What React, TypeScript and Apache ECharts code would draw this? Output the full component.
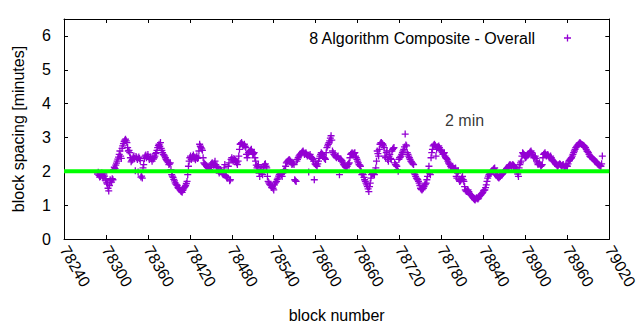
import { useEffect, useRef } from 'react';
import * as echarts from 'echarts';

// ---- data -------------------------------------------------------------
const FIRST_BLOCK = 78288;
const BLOCK_STEP = 1;
const spacingMinutes = [
  1.92, 1.97, 1.88, 1.83, 1.85, 1.90, 1.95, 1.87, 1.80, 1.92, 1.86, 1.74, 1.78, 1.66, 1.62, 1.50, 1.42, 1.58, 1.75, 1.72,
  1.68, 1.78, 1.75, 2.05, 2.12, 2.08, 2.18, 2.24, 2.30, 2.36, 2.42, 2.50, 2.60, 2.45, 2.38, 2.68, 2.75, 2.82, 2.88, 2.92,
  2.95, 2.90, 2.85, 2.70, 2.60, 2.62, 2.55, 2.40, 2.28, 2.32, 2.35, 2.42, 2.45, 2.38, 2.02, 2.44, 2.40, 2.35, 1.98, 2.42,
  2.38, 2.32, 1.83, 1.86, 1.80, 2.10, 2.20, 2.38, 2.45, 2.48, 2.40, 2.44, 2.50, 2.42, 2.35, 2.38, 2.42, 2.36, 2.30, 2.40,
  2.36, 2.40, 2.45, 2.52, 2.55, 2.62, 2.70, 2.76, 2.80, 2.74, 2.85, 2.68, 2.62, 2.55, 2.50, 2.48, 2.45, 2.40, 2.35, 2.32,
  2.30, 2.26, 2.20, 2.22, 2.25, 2.05, 1.90, 1.86, 1.82, 1.76, 1.72, 1.66, 1.62, 1.60, 1.58, 1.52, 1.50, 1.48, 1.45, 1.42,
  1.40, 1.38, 1.44, 1.48, 1.52, 1.55, 1.58, 1.64, 1.70, 1.90, 2.15, 2.30, 2.40, 2.45, 2.35, 2.40, 2.44, 2.48, 2.38, 2.42,
  2.34, 2.40, 2.45, 2.38, 2.40, 2.60, 2.80, 2.74, 2.70, 2.66, 2.62, 2.40, 2.25, 2.22, 2.20, 2.18, 2.15, 2.12, 2.10, 2.08,
  2.05, 2.12, 2.20, 2.22, 2.25, 2.20, 2.18, 2.24, 2.30, 2.20, 2.15, 2.12, 2.10, 2.00, 1.95, 2.02, 2.05, 2.00, 1.95, 1.92,
  1.90, 2.10, 2.20, 1.88, 1.85, 1.82, 1.80, 2.15, 2.25, 1.72, 1.75, 2.35, 2.40, 2.34, 2.30, 2.38, 2.35, 2.32, 2.30, 2.25,
  2.20, 2.30, 2.45, 2.65, 2.80, 2.82, 2.85, 2.80, 2.75, 2.78, 2.80, 2.74, 2.70, 2.50, 2.40, 2.50, 2.55, 2.58, 2.60, 2.62,
  2.65, 2.58, 2.50, 2.52, 2.55, 2.40, 2.30, 2.18, 2.10, 2.15, 2.20, 1.95, 1.85, 2.05, 2.10, 1.95, 1.90, 2.12, 2.15, 2.20,
  2.22, 2.15, 2.10, 1.85, 1.70, 1.66, 1.62, 1.60, 1.58, 1.52, 1.55, 1.50, 1.45, 1.60, 1.65, 1.68, 1.70, 1.76, 1.80, 1.86,
  1.90, 1.92, 1.95, 1.90, 1.85, 1.95, 2.00, 2.02, 2.05, 2.15, 2.25, 2.28, 2.30, 2.32, 2.35, 2.33, 2.30, 2.25, 2.20, 2.22,
  2.25, 2.20, 1.75, 1.72, 1.70, 2.30, 2.35, 2.40, 2.45, 2.48, 2.50, 2.52, 2.55, 2.58, 2.60, 2.55, 2.50, 2.52, 2.55, 2.50,
  2.45, 2.48, 1.98, 2.45, 2.50, 2.44, 2.40, 2.38, 2.35, 2.30, 1.75, 2.22, 2.20, 2.18, 2.15, 2.22, 2.30, 2.38, 2.45, 2.50,
  2.55, 2.52, 2.50, 2.45, 2.40, 2.38, 2.35, 2.55, 2.70, 2.75, 2.80, 2.85, 2.90, 2.98, 3.05, 2.92, 2.60, 2.55, 2.50, 2.48,
  2.45, 2.42, 2.40, 2.44, 2.45, 2.38, 1.90, 2.36, 2.35, 2.32, 2.30, 2.25, 2.20, 2.18, 2.15, 2.12, 2.10, 2.15, 2.20, 2.22,
  2.25, 2.40, 2.50, 2.52, 2.55, 2.52, 2.50, 2.53, 2.55, 2.45, 2.40, 2.35, 2.30, 2.25, 2.20, 2.18, 2.15, 2.00, 1.90, 1.92,
  1.90, 1.82, 1.75, 1.70, 1.65, 1.60, 1.55, 1.48, 1.40, 1.55, 1.65, 1.80, 1.90, 1.93, 1.95, 1.92, 1.90, 2.00, 2.10, 2.30,
  2.60, 2.52, 2.45, 2.65, 2.80, 2.84, 2.85, 2.82, 2.80, 2.75, 2.70, 2.45, 2.40, 2.55, 2.60, 2.35, 2.30, 2.45, 2.50, 2.38,
  2.35, 2.60, 2.65, 2.68, 2.70, 2.25, 2.20, 2.18, 2.15, 2.05, 2.00, 2.35, 2.40, 2.42, 2.45, 2.50, 2.55, 2.60, 2.65, 2.72,
  3.10, 2.78, 2.75, 2.55, 2.50, 2.45, 2.40, 2.35, 2.30, 2.28, 2.25, 2.22, 2.20, 1.95, 1.90, 1.85, 1.80, 1.78, 1.75, 1.70,
  1.65, 1.58, 1.50, 1.47, 1.45, 1.48, 1.50, 1.55, 1.60, 1.62, 1.65, 1.75, 1.85, 2.00, 2.15, 1.95, 1.90, 2.40, 2.55, 2.65,
  2.75, 2.78, 2.80, 2.76, 2.45, 2.65, 2.70, 2.72, 2.75, 2.70, 2.65, 2.62, 2.60, 2.55, 2.50, 2.52, 2.55, 2.45, 2.40, 2.38,
  2.35, 2.30, 2.25, 2.22, 2.20, 2.15, 2.10, 2.12, 2.15, 2.08, 2.05, 2.08, 2.10, 1.85, 1.80, 1.95, 2.00, 1.75, 1.70, 1.72,
  1.75, 1.80, 1.85, 1.75, 1.70, 1.55, 1.45, 1.42, 1.40, 1.43, 1.45, 1.40, 1.35, 1.32, 1.30, 1.28, 1.25, 1.22, 1.20, 1.17,
  1.15, 1.19, 1.22, 1.20, 1.18, 1.21, 1.25, 1.28, 1.30, 1.33, 1.35, 1.38, 1.42, 1.44, 1.45, 1.52, 1.60, 1.70, 1.80, 1.86,
  1.90, 1.92, 1.95, 1.98, 2.00, 2.02, 2.05, 2.08, 2.10, 1.95, 1.90, 1.88, 1.85, 1.82, 1.80, 1.83, 1.85, 1.88, 1.90, 1.92,
  1.95, 1.98, 2.00, 2.02, 2.05, 2.08, 2.10, 2.12, 2.15, 2.18, 2.20, 2.17, 2.15, 2.18, 2.20, 2.17, 2.15, 2.12, 2.10, 2.05,
  2.00, 1.92, 1.85, 2.10, 2.20, 2.25, 2.30, 2.45, 2.55, 2.52, 2.50, 2.45, 2.40, 2.42, 2.45, 2.48, 2.50, 2.52, 2.55, 2.58,
  2.60, 2.55, 2.50, 2.45, 2.40, 2.42, 2.45, 2.38, 2.30, 2.25, 2.20, 2.22, 2.25, 2.20, 2.15, 2.18, 2.20, 2.40, 2.50, 2.52,
  2.55, 2.50, 2.45, 2.48, 2.50, 2.45, 2.40, 2.42, 2.45, 2.40, 2.35, 2.32, 2.30, 2.28, 2.25, 2.22, 2.20, 2.18, 2.15, 2.18,
  2.20, 2.22, 2.20, 2.17, 2.15, 2.18, 2.20, 2.15, 2.12, 2.15, 2.18, 2.16, 2.15, 2.22, 2.30, 2.32, 2.35, 2.38, 2.40, 2.45,
  2.50, 2.55, 2.60, 2.65, 2.70, 2.72, 2.75, 2.78, 2.80, 2.83, 2.85, 2.82, 2.80, 2.79, 2.78, 2.76, 2.75, 2.72, 2.70, 2.65,
  2.60, 2.58, 2.55, 2.50, 2.45, 2.43, 2.42, 2.40, 2.38, 2.36, 2.35, 2.32, 2.30, 2.28, 2.25, 2.22, 2.20, 2.19, 2.18, 2.16,
  2.15, 2.22, 2.45,
];
const SERIES_NAME = '8 Algorithm Composite - Overall';
const TARGET_MINUTES = 2;
const TARGET_LABEL = '2 min';
const TARGET_LABEL_AT = [78785, 3.5];
const X_MIN = 78240;
const X_MAX = 79020;
const X_STEP = 60;
const Y_MIN = 0;
const Y_MAX = 6.5;
const Y_STEP = 1;
const X_TITLE = 'block number';
const Y_TITLE = 'block spacing [minutes]';

// ---- style --------------------------------------------------------------
const FONT = "'Liberation Sans', Arial, sans-serif";
const PURPLE = '#9400d3';
const GREEN = '#00ff00';
const PLUS = 'path://M0,2.85H7V4.15H0Z M2.85,0H4.15V7H2.85Z';

export default function App() {
  const ref = useRef<HTMLDivElement>(null);

  useEffect(() => {
    if (!ref.current) return;
    const chart = echarts.init(ref.current, null, { renderer: 'svg' });
    const points = spacingMinutes.map((v, i) => [FIRST_BLOCK + i * BLOCK_STEP, v]);

    const frameLine = { show: true, onZero: false, lineStyle: { color: '#000', width: 1 } };
    const innerTick = { show: true, inside: true, length: 4, lineStyle: { color: '#000', width: 1 } };

    chart.setOption({
      animation: false,
      backgroundColor: '#ffffff',
      textStyle: { fontFamily: FONT, color: '#000' },
      grid: { left: 64, right: 29, top: 19, bottom: 91, containLabel: false },
      legend: {
        show: true,
        data: [{ name: SERIES_NAME, icon: PLUS }],
        right: 64,
        top: 25,
        align: 'right',
        itemWidth: 7,
        itemHeight: 7,
        selectedMode: false,
        textStyle: { fontFamily: FONT, fontSize: 16, color: '#000', padding: [0, 24, 0, 0] },
      },
      xAxis: [
        {
          type: 'value',
          min: X_MIN,
          max: X_MAX,
          interval: X_STEP,
          position: 'bottom',
          axisLine: frameLine,
          axisTick: innerTick,
          splitLine: { show: false },
          axisLabel: {
            rotate: -60,
            margin: 8,
            color: '#000',
            fontSize: 16,
            fontFamily: FONT,
            formatter: (v: number) => String(v),
          },
          name: X_TITLE,
          nameLocation: 'middle',
          nameGap: 68,
          nameTextStyle: { fontSize: 16, fontFamily: FONT, color: '#000' },
        },
        {
          type: 'value',
          min: X_MIN,
          max: X_MAX,
          interval: X_STEP,
          position: 'top',
          axisLine: frameLine,
          axisTick: innerTick,
          splitLine: { show: false },
          axisLabel: { show: false },
        },
      ],
      yAxis: [
        {
          type: 'value',
          min: Y_MIN,
          max: Y_MAX,
          interval: Y_STEP,
          position: 'left',
          axisLine: frameLine,
          axisTick: innerTick,
          splitLine: { show: false },
          axisLabel: { margin: 13, color: '#000', fontSize: 16, fontFamily: FONT, showMaxLabel: false },
          name: Y_TITLE,
          nameLocation: 'middle',
          nameGap: 38,
          nameTextStyle: { fontSize: 16, fontFamily: FONT, color: '#000' },
        },
        {
          type: 'value',
          min: Y_MIN,
          max: Y_MAX,
          interval: Y_STEP,
          position: 'right',
          axisLine: frameLine,
          axisTick: innerTick,
          splitLine: { show: false },
          axisLabel: { show: false },
        },
      ],
      series: [
        {
          name: SERIES_NAME,
          type: 'scatter',
          symbol: PLUS,
          symbolSize: 7,
          itemStyle: { color: PURPLE, opacity: 1 },
          data: points,
          z: 2,
          silent: true,
        },
        {
          name: 'target',
          type: 'line',
          data: [
            [X_MIN, TARGET_MINUTES],
            [X_MAX, TARGET_MINUTES],
          ],
          symbol: 'none',
          lineStyle: { color: GREEN, width: 4 },
          z: 3,
          silent: true,
        },
        {
          name: 'target label',
          type: 'scatter',
          data: [TARGET_LABEL_AT],
          symbolSize: 0,
          silent: true,
          label: {
            show: true,
            position: 'right',
            distance: 0,
            formatter: TARGET_LABEL,
            fontSize: 16,
            fontFamily: FONT,
            color: '#000',
          },
          z: 4,
        },
      ],
    });

    return () => chart.dispose();
  }, []);

  return (
    <div
      ref={ref}
      style={{ position: 'absolute', left: 0, top: 0, width: 640, height: 330 }}
    />
  );
}
